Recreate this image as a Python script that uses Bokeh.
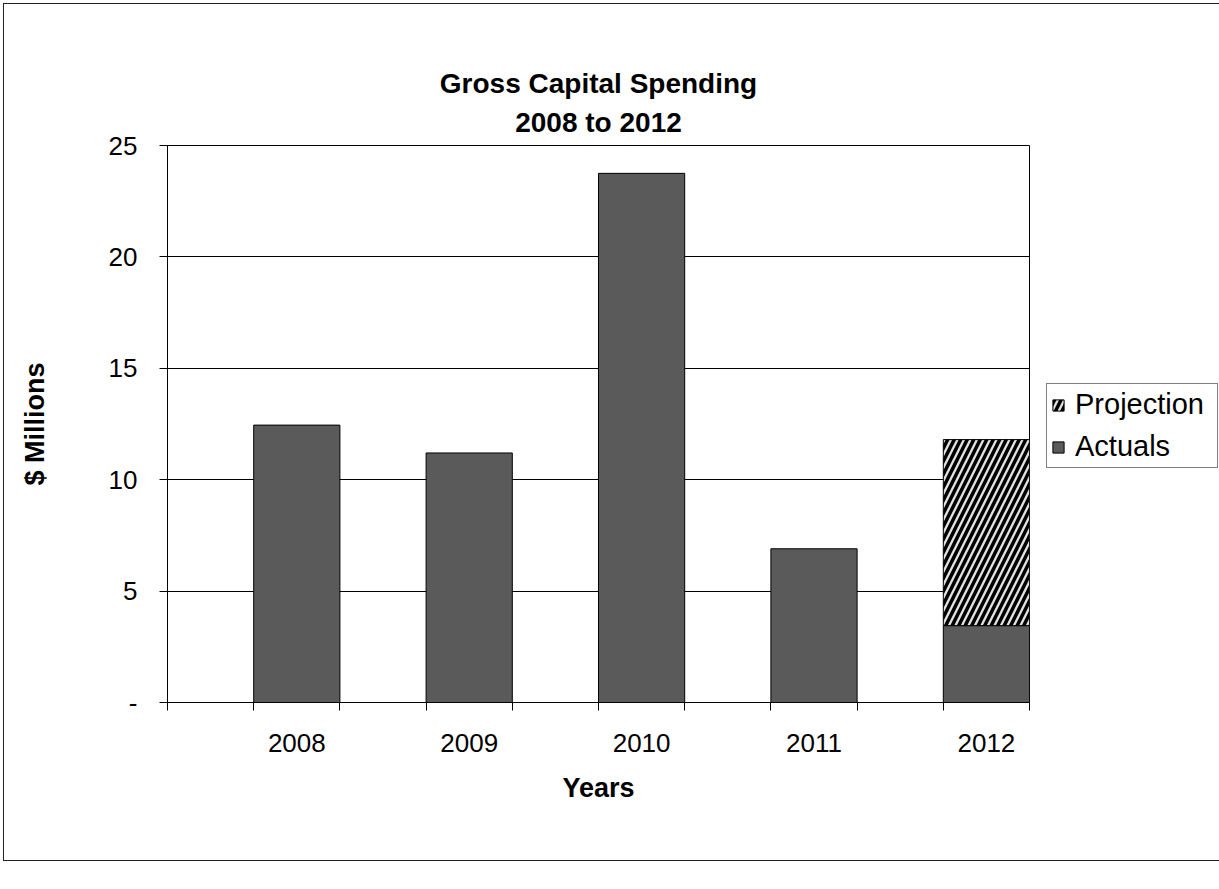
from bokeh.plotting import figure
from bokeh.models import Range1d, FixedTicker, Legend, LegendItem, Title, ColumnDataSource
from bokeh.embed import file_html
from bokeh.resources import INLINE

years = ["2008", "2009", "2010", "2011", "2012"]
actuals = [12.45, 11.2, 23.75, 6.9, 3.45]
projection = [0, 0, 0, 0, 8.35]
y_ticks = [0, 5, 10, 15, 20, 25]

FONT = "Liberation Sans"

# each year occupies two slots on the axis; the bar sits in the second slot
x_pos = [2 * i + 1.5 for i in range(len(years))]
proj_top = [a + p for a, p in zip(actuals, projection)]

src = ColumnDataSource(dict(x=x_pos, year=years, act=actuals))
keep = [i for i in range(len(years)) if projection[i] > 0]
proj_src = ColumnDataSource(dict(x=[x_pos[i] for i in keep],
                                 b=[actuals[i] for i in keep],
                                 t=[proj_top[i] for i in keep]))

p = figure(width=1213, height=856, output_backend="svg", toolbar_location=None,
           x_range=Range1d(0, 2 * len(years)), y_range=Range1d(0, 25),
           min_border_left=163, min_border_right=188, min_border_top=141,
           min_border_bottom=158, frame_width=862, frame_height=557)
p.styles = {"margin-left": "3px", "margin-top": "3px",
            "border": "1px solid #222", "box-sizing": "border-box"}

p.outline_line_color = "black"
p.outline_line_width = 1
p.background_fill_color = "white"
p.border_fill_color = "white"

act_r = p.vbar(x="x", top="act", bottom=0, width=1, source=src,
               fill_color="#5a5a5a", line_color="black", line_width=1)
proj_r = p.vbar(x="x", top="t", bottom="b", width=1, source=proj_src,
                fill_color="#e2e2e2", line_color="black", line_width=1,
                hatch_pattern="/", hatch_color="black", hatch_weight=3.5, hatch_scale=13)

# y axis
p.yaxis.ticker = FixedTicker(ticks=y_ticks)
p.yaxis.major_label_overrides = {0: "-"}
p.yaxis.major_tick_out = 8
p.yaxis.major_tick_in = 0
p.yaxis.minor_tick_out = 0
p.yaxis.minor_tick_in = 0
p.yaxis.major_label_standoff = 22
p.yaxis.axis_label = "$ Millions"
p.yaxis.axis_label_standoff = 56
p.yaxis.major_label_text_font = FONT
p.yaxis.major_label_text_font_size = "26px"
p.yaxis.major_label_text_color = "black"
p.yaxis.axis_label_text_font = FONT
p.yaxis.axis_label_text_font_size = "27px"
p.yaxis.axis_label_text_font_style = "bold"
p.yaxis.axis_label_text_color = "black"
p.yaxis.axis_line_color = "black"
p.yaxis.major_tick_line_color = "black"

# x axis
p.xaxis.ticker = FixedTicker(ticks=x_pos, minor_ticks=list(range(0, 2 * len(years) + 1)))
p.xaxis.major_label_overrides = {x: y for x, y in zip(x_pos, years)}
p.xaxis.major_tick_out = 0
p.xaxis.major_tick_in = 0
p.xaxis.minor_tick_out = 8
p.xaxis.minor_tick_in = 0
p.xaxis.major_label_standoff = 23
p.xaxis.axis_label = "Years"
p.xaxis.axis_label_standoff = 18
p.xaxis.major_label_text_font = FONT
p.xaxis.major_label_text_font_size = "26px"
p.xaxis.major_label_text_color = "black"
p.xaxis.axis_label_text_font = FONT
p.xaxis.axis_label_text_font_size = "27px"
p.xaxis.axis_label_text_font_style = "bold"
p.xaxis.axis_label_text_color = "black"
p.xaxis.axis_line_color = "black"
p.xaxis.minor_tick_line_color = "black"

p.xgrid.visible = False
p.ygrid.ticker = FixedTicker(ticks=y_ticks)
p.ygrid.grid_line_color = "black"
p.ygrid.grid_line_width = 1

# title (two centred lines)
p.title.visible = False
p.add_layout(Title(text="2008 to 2012", align="center", text_font=FONT,
                   text_font_size="28px", text_font_style="bold", text_color="black",
                   standoff=16), "above")
p.add_layout(Title(text="Gross Capital Spending", align="center", text_font=FONT,
                   text_font_size="28px", text_font_style="bold", text_color="black",
                   standoff=-5), "above")

legend = Legend(items=[LegendItem(label="Projection", renderers=[proj_r]),
                       LegendItem(label="Actuals", renderers=[act_r])],
                location=(17, 234), orientation="vertical",
                border_line_color="black", border_line_width=1,
                background_fill_color="white", background_fill_alpha=1,
                glyph_width=14, glyph_height=14, label_height=33, label_width=138,
                spacing=9, padding=4, margin=0, label_standoff=10,
                label_text_font=FONT, label_text_font_size="29px", label_text_color="black")
p.add_layout(legend, "right")

open("out.html", "w").write(file_html(p, INLINE))
